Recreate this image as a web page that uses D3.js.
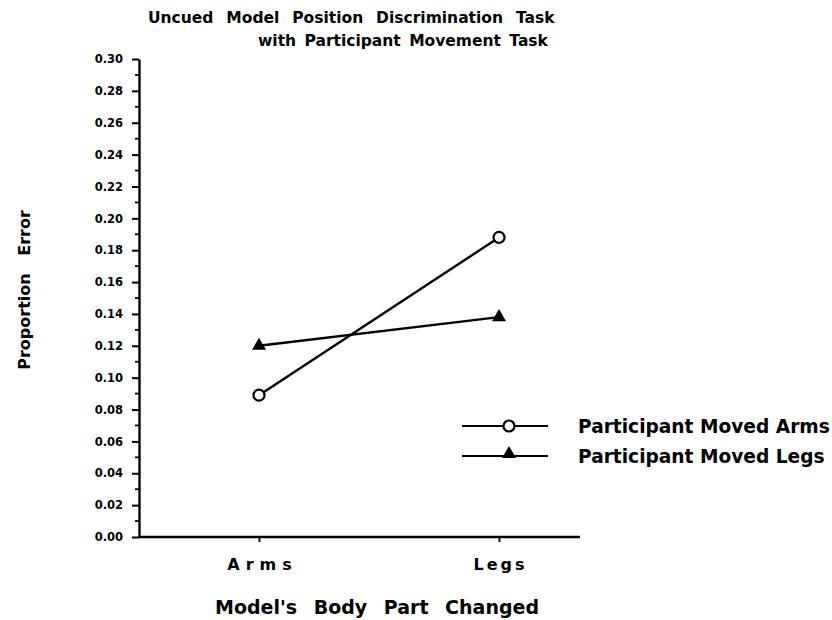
<!DOCTYPE html>
<html>
<head>
<meta charset="utf-8">
<script src="https://cdn.jsdelivr.net/npm/d3@7"></script>
<style>
  body { margin: 0; background: #fff; }
  text { font-family: "DejaVu Sans", "Liberation Sans", Arial, sans-serif; font-weight: bold; fill: #000; }
</style>
</head>
<body>
<svg></svg>
<script>
const width = 832
const height = 620

// data
const bodyParts = ['Arms', 'Legs']
const movedArms = [0.089, 0.188]
const movedLegs = [0.120, 0.138]
const seriesNames = ['Participant Moved Arms', 'Participant Moved Legs']
const yTicks = d3.range(0, 0.301, 0.02)
const yMinor = d3.range(0.01, 0.30, 0.02)

const font = '"DejaVu Sans", "Liberation Sans", Arial, sans-serif'

const svg = d3.select('svg')
  .attr('width', width)
  .attr('height', height)

const x = d3.scalePoint().domain(bodyParts).range([259, 499])
const y = d3.scaleLinear().domain([0, 0.30]).range([537, 59])

// y axis with major ticks
const yAxis = svg.append('g')
  .attr('transform', 'translate(139,0)')
  .call(d3.axisLeft(y).tickValues(yTicks).tickFormat(d3.format('.2f')).tickSize(7).tickSizeOuter(0))
yAxis.select('.domain').attr('stroke-width', 2.4)
yAxis.selectAll('.tick line').attr('stroke-width', 2)
yAxis.selectAll('.tick text')
  .attr('font-size', 11.5).attr('x', -16)
  .style('font-family', font).style('font-weight', 'bold')

svg.append('g')
  .selectAll('line')
  .data(yMinor)
  .join('line')
    .attr('x1', 135).attr('x2', 139)
    .attr('y1', d => y(d)).attr('y2', d => y(d))
    .attr('stroke', '#000').attr('stroke-width', 1.8)

// x axis
const xAxis = svg.append('g')
  .attr('transform', 'translate(0,537)')
  .call(d3.axisBottom(x).tickSize(5).tickSizeOuter(0).tickPadding(17))
xAxis.select('.domain').attr('d', 'M138,0H580').attr('stroke-width', 2.4)
xAxis.selectAll('.tick line').attr('stroke-width', 1.8)
xAxis.selectAll('.tick text')
  .attr('font-size', 16)
  .attr('dx', d => d === 'Arms' ? 3 : 1)
  .style('font-family', font).style('font-weight', 'bold')
  .style('letter-spacing', d => d === 'Arms' ? '6px' : '3px')

// lines
const line = d3.line().x((d, i) => x(bodyParts[i])).y(d => y(d))

svg.append('path').datum(movedArms)
  .attr('d', line).attr('fill', 'none').attr('stroke', '#000').attr('stroke-width', 2.4)
svg.append('path').datum(movedLegs)
  .attr('d', line).attr('fill', 'none').attr('stroke', '#000').attr('stroke-width', 2.4)

const tri = d3.symbol().type(d3.symbolTriangle).size(85)

svg.append('g').selectAll('path')
  .data(movedLegs)
  .join('path')
    .attr('d', tri)
    .attr('transform', (d, i) => `translate(${x(bodyParts[i])},${y(d)})`)
    .attr('fill', '#000')

svg.append('g').selectAll('circle')
  .data(movedArms)
  .join('circle')
    .attr('cx', (d, i) => x(bodyParts[i]))
    .attr('cy', d => y(d))
    .attr('r', 5.5)
    .attr('fill', '#fff').attr('stroke', '#000').attr('stroke-width', 2.2)

// legend
const legend = svg.append('g').selectAll('g')
  .data(seriesNames)
  .join('g')
    .attr('transform', (d, i) => `translate(462,${426 + i * 30})`)
legend.append('line')
  .attr('x1', 0).attr('x2', 86)
  .attr('stroke', '#000').attr('stroke-width', 2.2)
legend.filter((d, i) => i === 0).append('circle')
  .attr('cx', 47).attr('r', 5.5)
  .attr('fill', '#fff').attr('stroke', '#000').attr('stroke-width', 2.2)
legend.filter((d, i) => i === 1).append('path')
  .attr('d', tri).attr('transform', 'translate(47,-2)').attr('fill', '#000')
legend.append('text')
  .attr('x', 116).attr('dy', '0.36em')
  .attr('font-size', 18.6)
  .text(d => d)

// titles
const title = svg.append('text').attr('font-size', 15.5)
title.append('tspan').attr('x', 148).attr('y', 23)
  .style('word-spacing', '7.5px')
  .text('Uncued Model Position Discrimination Task')
title.append('tspan').attr('x', 258).attr('y', 46)
  .style('word-spacing', '3px')
  .text('with Participant Movement Task')

svg.append('text')
  .attr('x', 377).attr('y', 614)
  .attr('text-anchor', 'middle')
  .attr('font-size', 19)
  .style('word-spacing', '10px')
  .text("Model's Body Part Changed")

svg.append('text')
  .attr('transform', 'translate(24,290) rotate(-90)')
  .attr('text-anchor', 'middle')
  .attr('dy', '0.35em')
  .attr('font-size', 16)
  .style('word-spacing', '12px')
  .text('Proportion Error')
</script>
</body>
</html>
